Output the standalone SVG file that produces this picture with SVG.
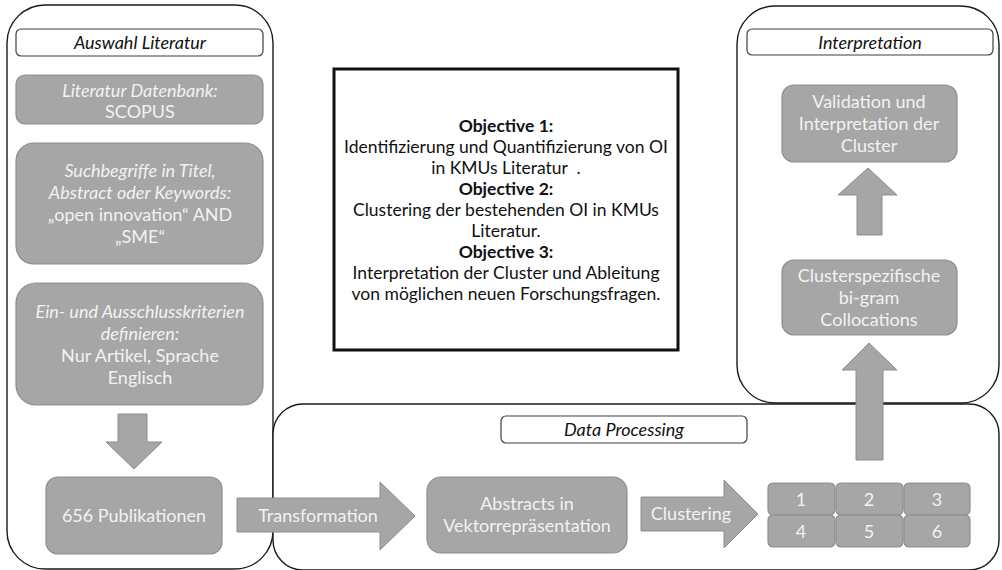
<svg xmlns="http://www.w3.org/2000/svg" width="1002" height="570" viewBox="0 0 1002 570">
  <style>
    .frame { fill: #ffffff; stroke: #1a1a1a; stroke-width: 1.4; }
    .head { fill: #ffffff; stroke: #404040; stroke-width: 1.2; }
    .box { fill: #a6a6a6; stroke: #8e8e8e; stroke-width: 1.2; }
    .arrow { fill: #a6a6a6; stroke: #8e8e8e; stroke-width: 1; }
    .cell { fill: #a6a6a6; stroke: #8e8e8e; stroke-width: 1.2; }
    text { font-family: Lato, "Liberation Sans", sans-serif; text-anchor: middle; }
    .ht { font-size: 18px; font-style: italic; fill: #111111; }
    .wt { font-size: 18px; fill: #f2f2f2; }
    .wi { font-style: italic; }
    .ot { font-size: 17.5px; fill: #111111; }
    .ob { font-weight: bold; }
  </style>

  <!-- section frames -->
  <g id="section-auswahl">
    <rect class="frame" x="7" y="5" width="266" height="564" rx="38"/>
    <rect class="head" x="16" y="29" width="247" height="27" rx="5"/>
    <text class="ht" x="140" y="49">Auswahl Literatur</text>
  </g>
  <g id="section-processing">
    <rect class="frame" x="273" y="404" width="726" height="166" rx="30"/>
    <rect class="head" x="501" y="416" width="246" height="27" rx="5"/>
    <text class="ht" x="624" y="436">Data Processing</text>
  </g>
  <g id="section-interpretation">
    <rect class="frame" x="737" y="6" width="262" height="397" rx="38"/>
    <rect class="head" x="747" y="29" width="246" height="26" rx="5"/>
    <text class="ht" x="870" y="48.5">Interpretation</text>
  </g>

  <!-- objectives -->
  <g id="objectives">
    <rect x="334" y="69" width="344" height="281" fill="#ffffff" stroke="#111111" stroke-width="3"/>
    <text class="ot ob" x="506" y="132">Objective 1:</text>
    <text class="ot" x="506" y="153">Identifizierung und Quantifizierung von OI</text>
    <text class="ot" x="506" y="174">in KMUs Literatur&#160;&#160;.</text>
    <text class="ot ob" x="506" y="195">Objective 2:</text>
    <text class="ot" x="506" y="216">Clustering der bestehenden OI in KMUs</text>
    <text class="ot" x="506" y="237">Literatur.</text>
    <text class="ot ob" x="506" y="258">Objective 3:</text>
    <text class="ot" x="506" y="279">Interpretation der Cluster und Ableitung</text>
    <text class="ot" x="506" y="300">von möglichen neuen Forschungsfragen.</text>
  </g>

  <!-- process steps -->
  <g id="datenbank">
    <rect class="box" x="16" y="75" width="247" height="49" rx="9"/>
    <text class="wt wi" x="140" y="97">Literatur Datenbank:</text>
    <text class="wt" x="140" y="118">SCOPUS</text>
  </g>
  <g id="suchbegriffe">
    <rect class="box" x="16" y="143" width="247" height="121" rx="18"/>
    <text class="wt wi" x="140" y="177">Suchbegriffe in Titel,</text>
    <text class="wt wi" x="140" y="199">Abstract oder Keywords:</text>
    <text class="wt" x="140" y="221">„open innovation“ AND</text>
    <text class="wt" x="140" y="243">„SME“</text>
  </g>
  <g id="kriterien">
    <rect class="box" x="16" y="283" width="247" height="122" rx="20"/>
    <text class="wt wi" x="140" y="317.5">Ein- und Ausschlusskriterien</text>
    <text class="wt wi" x="140" y="339.5">definieren:</text>
    <text class="wt" x="140" y="361.5">Nur Artikel, Sprache</text>
    <text class="wt" x="140" y="383.5">Englisch</text>
  </g>
  <g id="publikationen">
    <rect class="box" x="46" y="477" width="176" height="77" rx="12"/>
    <text class="wt" x="134" y="522">656 Publikationen</text>
  </g>
  <g id="vektoren">
    <rect class="box" x="427" y="477" width="200" height="76" rx="14"/>
    <text class="wt" x="527" y="510">Abstracts in</text>
    <text class="wt" x="527" y="532">Vektorrepräsentation</text>
  </g>
  <g id="cluster">
    <rect class="cell" x="768" y="483" width="67" height="32" rx="5"/>
    <rect class="cell" x="836" y="483" width="67" height="32" rx="5"/>
    <rect class="cell" x="904" y="483" width="66" height="32" rx="5"/>
    <rect class="cell" x="768" y="515" width="67" height="32" rx="5"/>
    <rect class="cell" x="836" y="515" width="67" height="32" rx="5"/>
    <rect class="cell" x="904" y="515" width="66" height="32" rx="5"/>
    <text class="wt" x="801" y="505.5">1</text>
    <text class="wt" x="869" y="505.5">2</text>
    <text class="wt" x="937" y="505.5">3</text>
    <text class="wt" x="801" y="537.5">4</text>
    <text class="wt" x="869" y="537.5">5</text>
    <text class="wt" x="937" y="537.5">6</text>
  </g>
  <g id="collocations">
    <rect class="box" x="782" y="260" width="175" height="75" rx="12"/>
    <text class="wt" x="869" y="282">Clusterspezifische</text>
    <text class="wt" x="869" y="304">bi-gram</text>
    <text class="wt" x="869" y="326">Collocations</text>
  </g>
  <g id="validation">
    <rect class="box" x="782" y="85" width="175" height="77" rx="12"/>
    <text class="wt" x="869" y="108">Validation und</text>
    <text class="wt" x="869" y="130">Interpretation der</text>
    <text class="wt" x="869" y="152">Cluster</text>
  </g>

  <!-- block arrows between steps -->
  <g id="connectors">
    <polygon class="arrow" points="118,414 147,414 147,442 162,442 134,469 106,442 118,442"/>
    <polygon class="arrow" points="237,498 380,498 380,482 415,516 380,550 380,532 237,532"/>
    <text class="wt" x="318" y="522">Transformation</text>
    <polygon class="arrow" points="641,497 724,497 724,480 758,514 724,548 724,531 641,531"/>
    <text class="wt" x="691" y="520">Clustering</text>
    <polygon class="arrow" points="856,460 883,460 883,370 897,370 869,343 842,370 856,370"/>
    <polygon class="arrow" points="857,235 882,235 882,195 897,195 868,168 838,195 857,195"/>
  </g>
</svg>
